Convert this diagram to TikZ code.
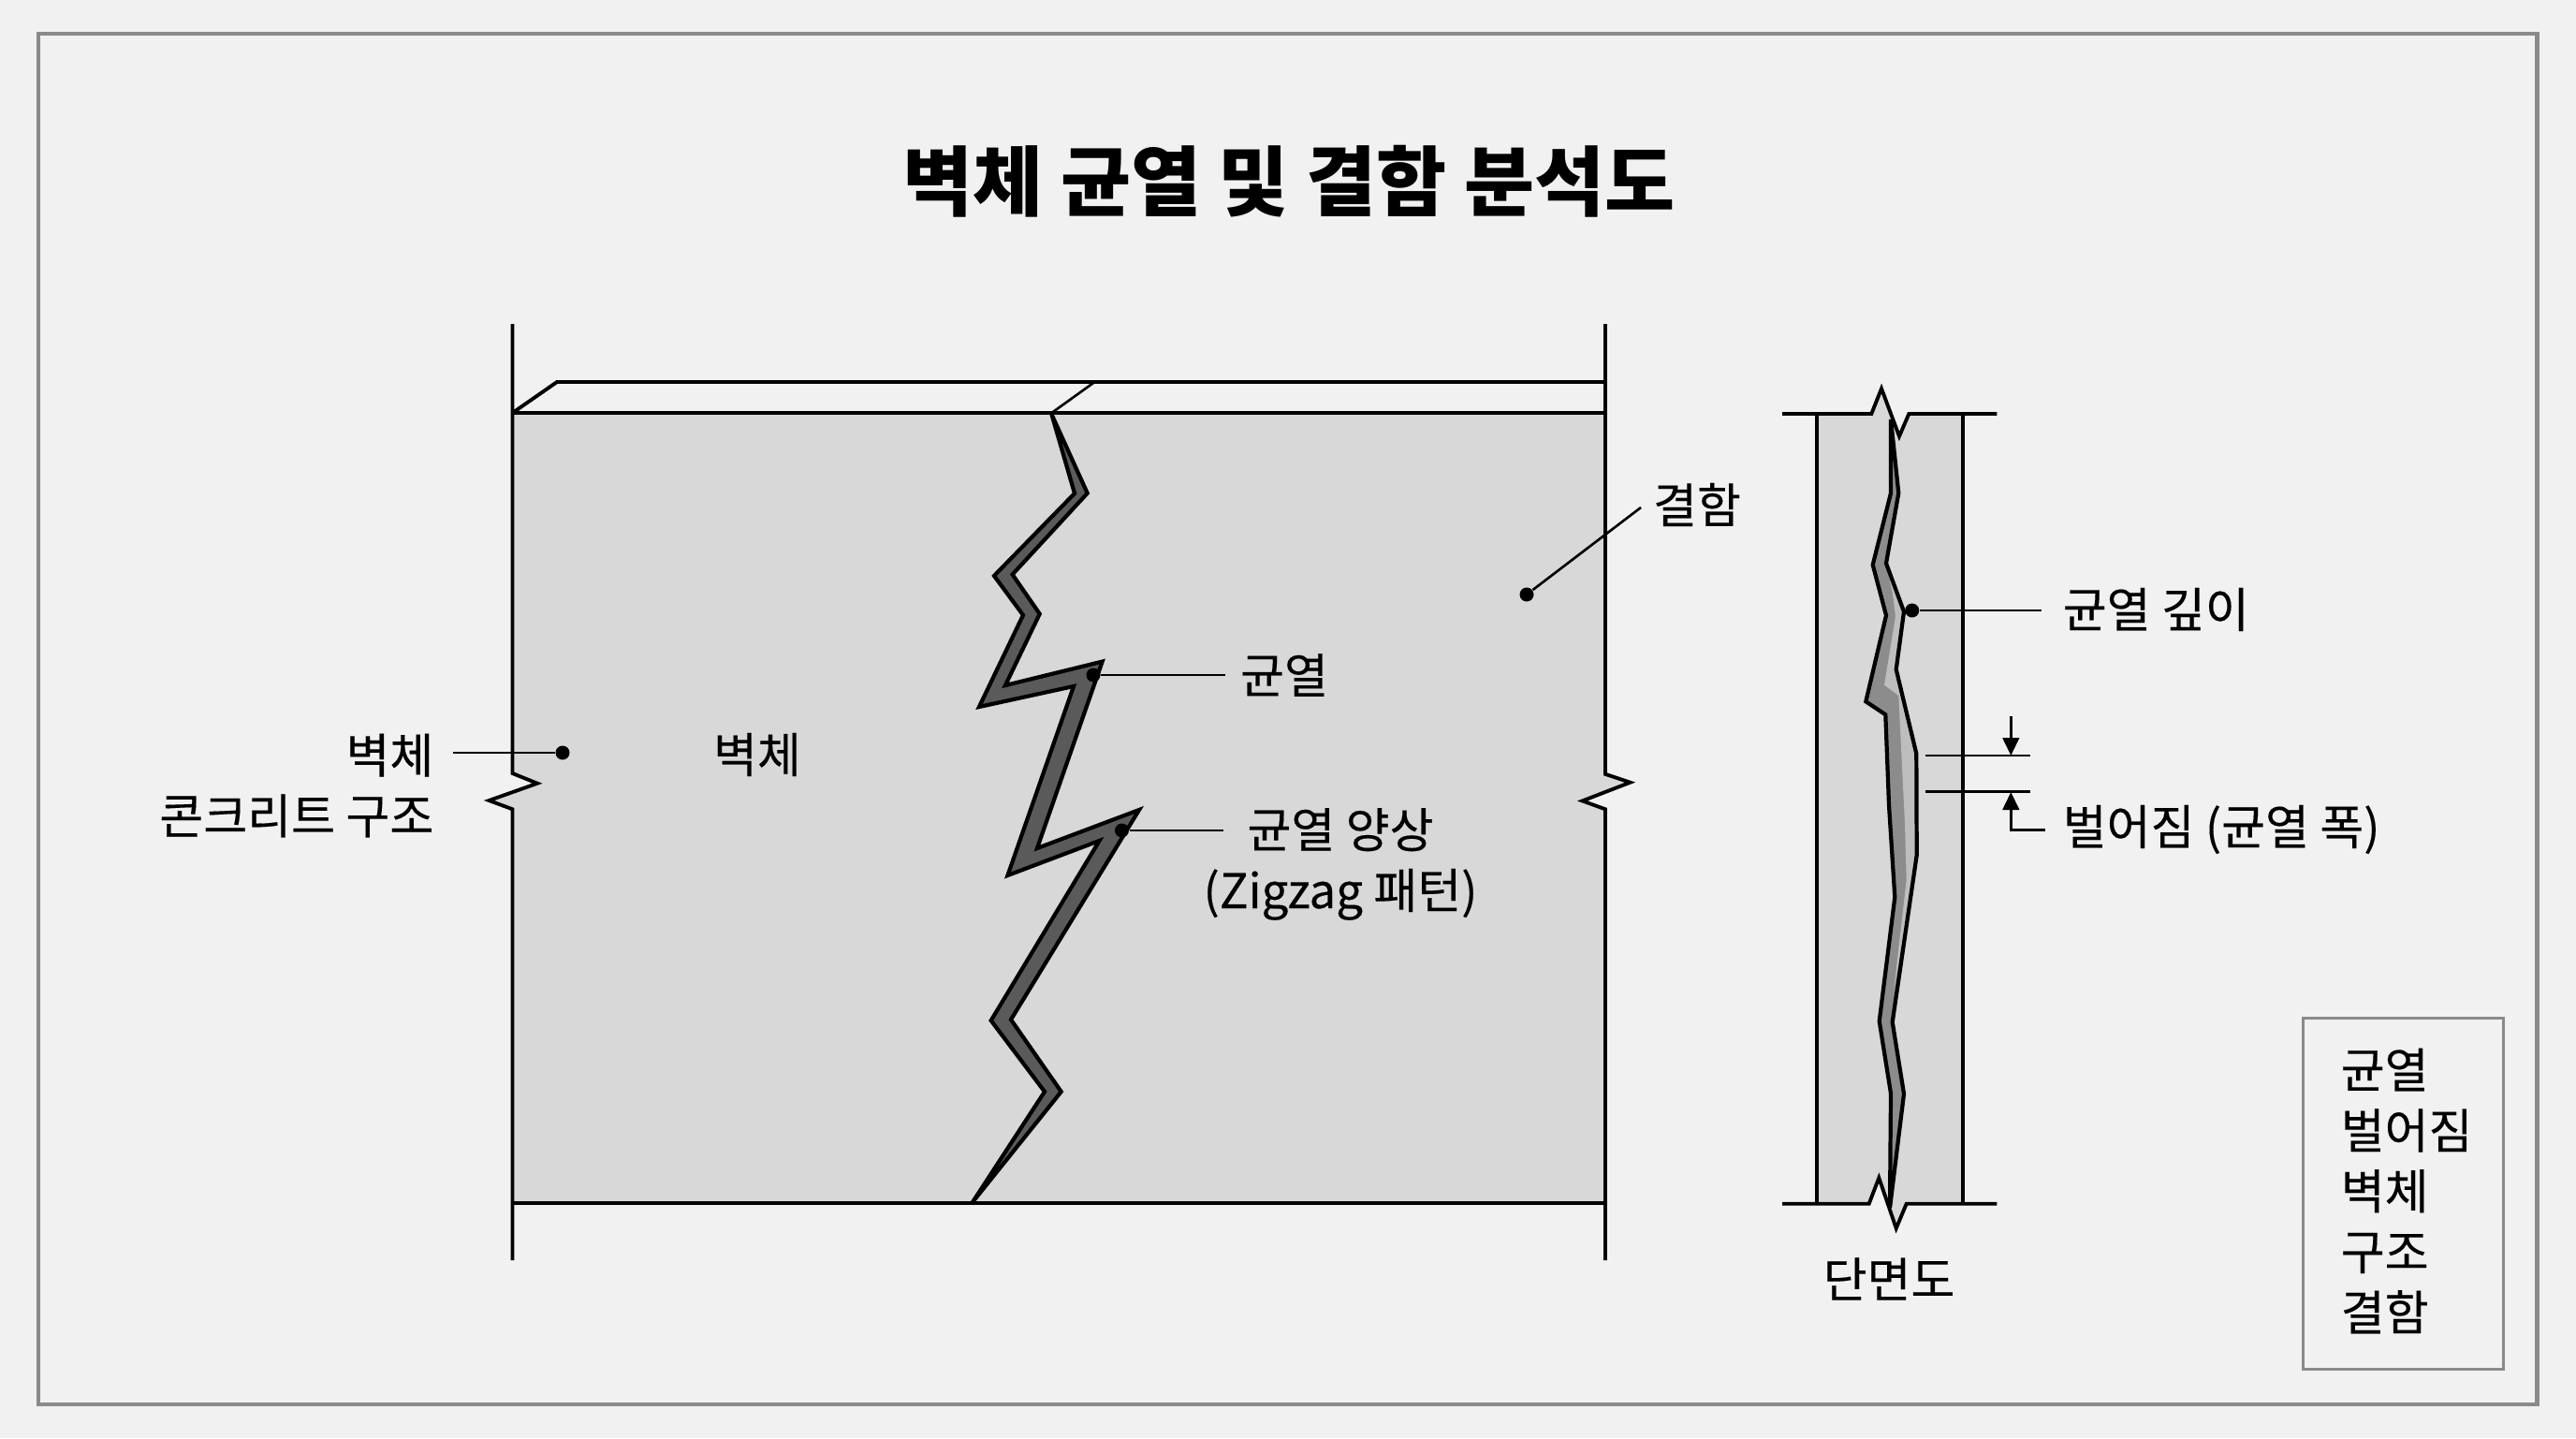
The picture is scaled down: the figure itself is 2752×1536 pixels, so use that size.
\documentclass[tikz,border=0pt]{standalone}
\usepackage{fontspec}
\setmainfont{Noto Sans CJK KR}[UprightFeatures={FakeBold=0.25}]
\usetikzlibrary{arrows.meta}
\definecolor{bgpage}{HTML}{f0f1f0}
\definecolor{bgwall}{HTML}{d7d8d7}
\definecolor{crackdark}{HTML}{5a5a5a}
\definecolor{crackmid}{HTML}{8c8c8c}
\definecolor{cracklight}{HTML}{bdbebd}
\definecolor{framegray}{HTML}{8a8a8a}
\tikzset{
  lbl/.style     = {inner sep=0pt, font=\fontsize{14.5}{18.4}\selectfont},
  ttl/.style     = {inner sep=0pt, font=\fontsize{23.2}{28}\selectfont\bfseries},
  keybox/.style  = {draw=framegray, line width=0.85pt,
                    minimum width=2.13cm, minimum height=3.74cm},
  wallline/.style= {line width=1.1pt, line join=miter},
  leader/.style  = {line width=0.75pt},
  crackline/.style = {line width=1.2pt, line join=miter, miter limit=10},
  dot/.style     = {circle, fill=black, inner sep=0pt, minimum size=1.5mm},
  flow/.style    = {-{Triangle[length=5.4pt, width=5pt]}, line width=0.75pt},
}
\begin{document}
\begin{tikzpicture}[x=0.01cm, y=-0.01cm]
    \useasboundingbox (0,0) rectangle (2752,1536);
    \fill[bgpage] (0,0) rectangle (2752,1536);
    \draw[framegray, line width=1.4pt] (41,36) rectangle (2710.5,1500);

    \node[ttl] (title) at (1377,194) {벽체 균열 및 결함 분석도};

    % Wall : face, top edge, side lines with break marks
    \fill[bgwall] (547.5,441) -- (1715,441) -- (1715,826.8) -- (1741.5,835.7) -- (1690.5,855.4)
      -- (1715,864.3) -- (1715,1285) -- (547.5,1285) -- (547.5,864.3) -- (522.5,855)
      -- (574,836.7) -- (547.5,826) -- cycle;
    \draw[wallline] (547.5,346) -- (547.5,826) -- (574,836.7) -- (522.5,855) -- (547.5,864.3) -- (547.5,1346);
    \draw[wallline] (1715,346) -- (1715,826.8) -- (1741.5,835.7) -- (1690.5,855.4) -- (1715,864.3) -- (1715,1346);
    \draw[wallline] (547.5,441) -- (595,408) -- (1715,408);
    \draw[wallline] (547.5,441) -- (1715,441);
    \draw[wallline] (547.5,1285) -- (1715,1285);
    \draw[leader] (1123.5,441) -- (1168,409);

    % Crack in the wall face
    \draw[crackline, fill=crackdark] (1123.5,442.6) -- (1148,527) -- (1062,615) -- (1093,657)
      -- (1046,755) -- (1147,733) -- (1076.5,935) -- (1174.5,898) -- (1058.7,1090)
      -- (1116,1166) -- (1039,1284) -- (1133.7,1166) -- (1080,1089) -- (1217,865)
      -- (1108,906) -- (1177.6,706.6) -- (1074,732) -- (1110.7,655.7) -- (1081.6,613.6)
      -- (1161.7,526.8) -- cycle;

    % Section : slab, crack, break marks
    \fill[bgwall] (1940.7,442) -- (1999.3,442) -- (2010,415) -- (2029,466) -- (2039.3,442)
      -- (2097.3,442) -- (2097.3,1285.7) -- (2036.7,1285.7) -- (2025.7,1312) -- (2007.3,1258)
      -- (1996.7,1285.7) -- (1940.7,1285.7) -- cycle;
    \draw[wallline] (1940.7,442) -- (1940.7,1285.7);
    \draw[wallline] (2097.3,442) -- (2097.3,1285.7);
    \draw[wallline] (1904,442) -- (1999.3,442) -- (2010,415) -- (2029,466) -- (2039.3,442) -- (2133.3,442);
    \draw[wallline] (1904,1285.7) -- (1996.7,1285.7) -- (2007.3,1258) -- (2025.7,1312) -- (2036.7,1285.7) -- (2133.3,1285.7);

    \fill[crackmid] (2020,448) -- (2020,526.7) -- (2000.7,603.3) -- (2015,657.3) -- (1993.3,749.3)
      -- (2014.3,763.3) -- (2018,860) -- (2024.3,958.3) -- (2007.7,1090.7) -- (2020,1168)
      -- (2019,1290) -- (2034,1168.3) -- (2021.7,1091.7) -- (2047.7,913.3) -- (2047.3,805)
      -- (2025.7,715) -- (2034,653.3) -- (2015,601.7) -- (2028.3,526.7) -- cycle;
    \fill[cracklight] (2015,601.7) -- (2021.7,633) -- (2025,658) -- (2013,731.7) -- (2028.3,743)
      -- (2035,880) -- (2036.7,940) -- (2026.7,1026.7) -- (2023.3,1060) -- (2047.7,913.3)
      -- (2047.3,805) -- (2025.7,715) -- (2034,653.3) -- cycle;
    \draw[crackline] (2020,448) -- (2020,526.7) -- (2000.7,603.3) -- (2015,657.3) -- (1993.3,749.3)
      -- (2014.3,763.3) -- (2018,860) -- (2024.3,958.3) -- (2007.7,1090.7) -- (2020,1168)
      -- (2019,1290) -- (2034,1168.3) -- (2021.7,1091.7) -- (2047.7,913.3) -- (2047.3,805)
      -- (2025.7,715) -- (2034,653.3) -- (2015,601.7) -- (2028.3,526.7) -- cycle;

    % Labels
    \node[lbl]                       (wall)  at (809,806)     {벽체};
    \node[lbl, anchor=east, align=right] (conc) at (464,839)  {벽체\\콘크리트 구조};
    \node[lbl]                       (crack) at (1372,721)    {균열};
    \node[lbl, align=center]         (zig)   at (1432,923)    {균열 양상\\(Zigzag 패턴)};
    \node[lbl]                       (defect) at (1813,539)   {결함};
    \node[lbl, anchor=west]          (depth) at (2203,651)    {균열 깊이};
    \node[lbl, anchor=west]          (gap)   at (2203,886)    {벌어짐 (균열 폭)};
    \node[lbl]                       (sect)  at (2018,1366)   {단면도};
    \node[keybox]                    (key)   at (2567.5,1275) {};
    \node[lbl, anchor=west, align=left] (keytxt) at (2500,1272) {균열\\벌어짐\\벽체\\구조\\결함};

    % Leaders
    \node[dot] (dwall)   at (601,804) {};
    \node[dot] (dcrack)  at (1168,721) {};
    \node[dot] (dzig)    at (1198.5,887) {};
    \node[dot] (ddefect) at (1631,635) {};
    \node[dot] (ddepth)  at (2042.7,652) {};
    \coordinate (ewall)   at (484,804);
    \coordinate (ecrack)  at (1309,721);
    \coordinate (ezig)    at (1307,887);
    \coordinate (edefect) at (1753,542);
    \coordinate (edepth)  at (2181,652);
    \draw[leader] (ewall)--(dwall);
    \draw[leader] (dcrack)--(ecrack);
    \draw[leader] (dzig)--(ezig);
    \draw[leader] (ddefect)--(edefect);
    \draw[leader] (ddepth)--(edepth);

    % Width dimension
    \coordinate (gaptl) at (2056.5,807);
    \coordinate (gaptr) at (2169,807);
    \coordinate (gapbl) at (2056.5,845.7);
    \coordinate (gapbr) at (2169,845.7);
    \coordinate (gapta) at (2148.3,765);
    \coordinate (gaptb) at (2148.3,807);
    \coordinate (gapba) at (2148.3,846);
    \coordinate (gapbe) at (2148.3,886.7);
    \coordinate (gapbf) at (2185,886.7);
    \draw[leader] (gaptl)--(gaptr);
    \draw[leader] (gapbl)--(gapbr);
    \draw[flow] (gapta)--(gaptb);
    \draw[flow] (gapbf)--(gapbe)--(gapba);
  \end{tikzpicture}
\end{document}
